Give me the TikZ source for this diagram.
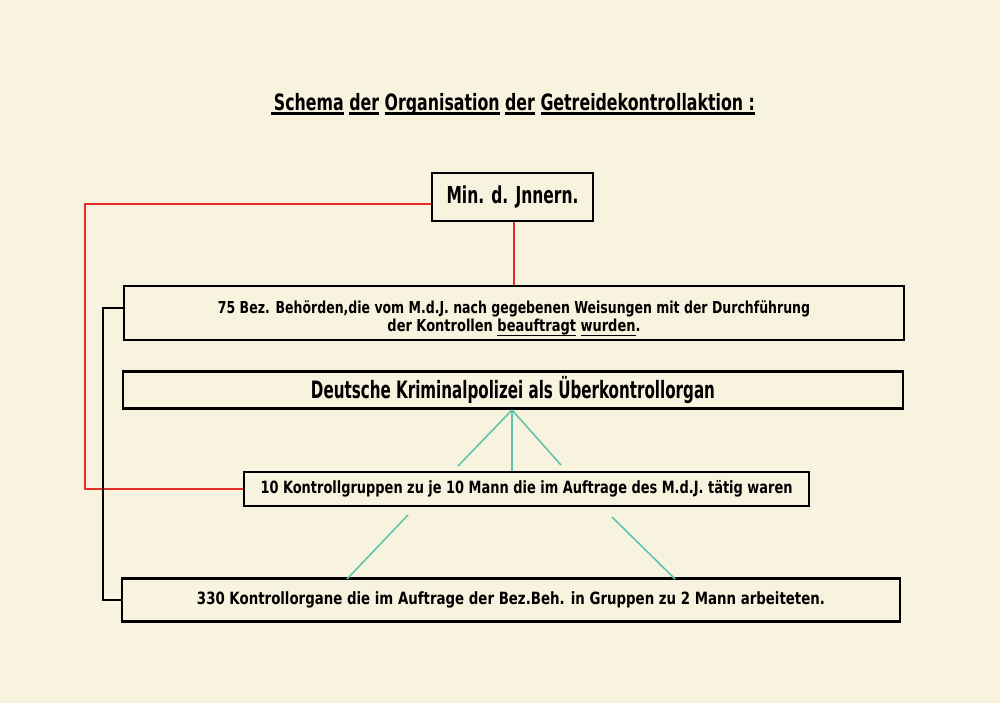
\documentclass[tikz,border=0pt]{standalone}
\usepackage{fontspec}
\usepackage{graphicx}
\newfontfamily\sten{DejaVu Sans Condensed Bold}
\newlength\px \setlength\px{0.025cm}
\definecolor{paper}{RGB}{247,243,222}
\definecolor{inkred}{RGB}{226,48,38}
\definecolor{inkteal}{RGB}{92,196,170}
\newcommand\fitw[2]{\resizebox{#1\px}{\height}{#2}}
\newcommand\ulw[2][1.2pt]{\setbox0\hbox{#2}\rlap{\rule[-3.2pt]{\wd0}{#1}}\box0\relax}
\begin{document}
\begin{tikzpicture}[x=0.025cm,y=-0.025cm,
  box/.style={draw=black, line width=1.8pt, inner sep=0pt, fill=paper},
  redline/.style={draw=inkred, line width=1.4pt},
  blackline/.style={draw=black, line width=1.6pt},
  tealline/.style={draw=inkteal, line width=1.1pt}]
\fill[paper] (0,0) rectangle (1000,703);
\useasboundingbox (0,0) rectangle (1000,703);

% title
\node (title) at (513,104) {\fitw{484}{\fontsize{16}{18}\sten\ulw[1.6pt]{\,Schema}\ \ulw[1.6pt]{der}\ \ulw[1.6pt]{Organisation}\ \ulw[1.6pt]{der}\ \ulw[1.6pt]{Getreidekontrollaktion :}}};

% connector points
\coordinate (r1) at (85,204);
\coordinate (b1) at (103,308);
\coordinate (apex) at (512,410);
\coordinate (t1) at (458,466);
\coordinate (t2) at (408,515);
\coordinate (t3) at (347,579);
\coordinate (t4) at (561,465);
\coordinate (t5) at (612,517);
\coordinate (t6) at (675,579);

% boxes
\node[box, minimum width=161\px, minimum height=48\px] (min) at (512.5,197)
  {\fitw{132}{\fontsize{16.6}{18}\sten Min. d. Jnnern.}};
\node[box, minimum width=780\px, minimum height=54\px, align=center] (bez) at (514,313)
  {\fitw{592}{\fontsize{11.7}{13}\sten\rule{0pt}{17pt}75 Bez. Behörden,die vom M.d.J. nach gegebenen Weisungen mit der Durchführung}\\[1pt]
   \fitw{253}{\fontsize{11.7}{13}\sten der Kontrollen \ulw[0.8pt]{beauftragt} \ulw[0.8pt]{wurden}.}};
\node[box, line width=2.1pt, minimum width=780\px, minimum height=37\px] (kp) at (513,390)
  {\fitw{404}{\fontsize{17}{18}\sten Deutsche Kriminalpolizei als Überkontrollorgan}};
\node[box, minimum width=565\px, minimum height=34\px] (grp) at (526.5,489)
  {\fitw{532}{\fontsize{12}{13}\sten 10 Kontrollgruppen zu je 10 Mann die im Auftrage des M.d.J. tätig waren}};
\node[box, minimum width=778\px, minimum height=43\px] (org) at (511,600)
  {\fitw{628}{\fontsize{12}{13}\sten 330 Kontrollorgane die im Auftrage der Bez.Beh. in Gruppen zu 2 Mann arbeiteten.}};

% red connectors
\draw[redline] (min.west |- r1) -- (r1) -- (r1 |- grp.west) -- (grp.west);
\draw[redline] (min.south -| 514,0) -- (bez.north -| 514,0);

% black connector
\draw[blackline] (bez.west |- b1) -- (b1) -- (b1 |- org.west) -- (org.west);

% teal connectors
\draw[tealline] (apex) -- (grp.north -| apex);
\draw[tealline] (apex) -- (t1);
\draw[tealline] (apex) -- (t4);
\draw[tealline] (t2) -- (t3);
\draw[tealline] (t5) -- (t6);
\end{tikzpicture}
\end{document}
